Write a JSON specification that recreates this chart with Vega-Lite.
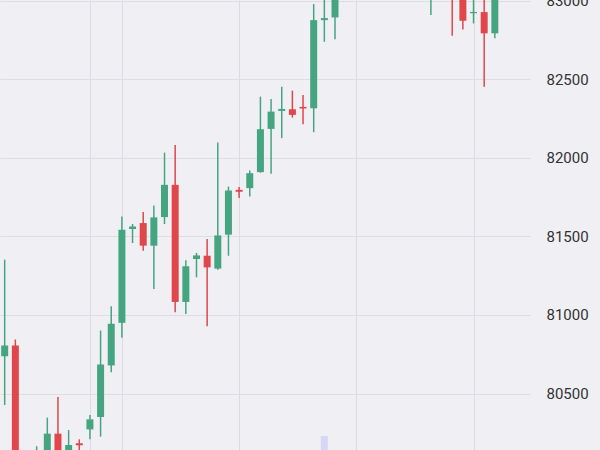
{
  "$schema": "https://vega.github.io/schema/vega-lite/v6.json",
  "width": 530,
  "height": 450,
  "autosize": {"type": "none"},
  "padding": {"left": 0, "top": 0, "right": 70, "bottom": 0},
  "background": "#f0eff4",
  "config": {"view": {"stroke": null, "fill": "#f0eff4"}},
  "datasets": {
    "candles": [
      {"i":0,"o":80738,"h":81352,"l":80427,"c":80806},
      {"i":1,"o":80806,"h":80844,"l":80050,"c":80080},
      {"i":3,"o":80060,"h":80165,"l":80030,"c":80110},
      {"i":4,"o":80080,"h":80347,"l":80050,"c":80245},
      {"i":5,"o":80245,"h":80478,"l":80060,"c":80090},
      {"i":6,"o":80100,"h":80268,"l":80080,"c":80173},
      {"i":7,"o":80184,"h":80209,"l":80130,"c":80171},
      {"i":8,"o":80272,"h":80363,"l":80209,"c":80336},
      {"i":9,"o":80351,"h":80901,"l":80226,"c":80685},
      {"i":10,"o":80679,"h":81055,"l":80636,"c":80944},
      {"i":11,"o":80950,"h":81627,"l":80855,"c":81542},
      {"i":12,"o":81547,"h":81579,"l":81458,"c":81563},
      {"i":13,"o":81585,"h":81655,"l":81409,"c":81441},
      {"i":14,"o":81441,"h":81697,"l":81166,"c":81621},
      {"i":15,"o":81623,"h":82033,"l":81579,"c":81828},
      {"i":16,"o":81828,"h":82082,"l":81017,"c":81083},
      {"i":17,"o":81083,"h":81348,"l":81007,"c":81310},
      {"i":18,"o":81356,"h":81395,"l":81240,"c":81379},
      {"i":19,"o":81377,"h":81483,"l":80928,"c":81303},
      {"i":20,"o":81295,"h":82097,"l":81288,"c":81506},
      {"i":21,"o":81511,"h":81817,"l":81377,"c":81792},
      {"i":22,"o":81796,"h":81814,"l":81744,"c":81784},
      {"i":23,"o":81807,"h":81919,"l":81754,"c":81902},
      {"i":24,"o":81909,"h":82389,"l":81905,"c":82182},
      {"i":25,"o":82184,"h":82374,"l":81898,"c":82294},
      {"i":26,"o":82298,"h":82452,"l":82125,"c":82311},
      {"i":27,"o":82309,"h":82427,"l":82256,"c":82273},
      {"i":28,"o":82324,"h":82400,"l":82214,"c":82314},
      {"i":29,"o":82315,"h":82978,"l":82163,"c":82876},
      {"i":30,"o":82876,"h":83060,"l":82738,"c":82889},
      {"i":31,"o":82893,"h":83120,"l":82755,"c":83080},
      {"i":40,"o":83030,"h":83150,"l":82908,"c":83100},
      {"i":42,"o":83100,"h":83150,"l":82776,"c":83030},
      {"i":43,"o":83080,"h":83120,"l":82817,"c":82872},
      {"i":44,"o":82920,"h":83040,"l":82855,"c":82928},
      {"i":45,"o":82927,"h":83020,"l":82452,"c":82792},
      {"i":46,"o":82792,"h":83080,"l":82760,"c":83050}
    ],
    "volume": [
      {"i":30,"v":31}
    ]
  },
  "layer": [
    {
      "data": {"name": "volume"},
      "mark": {"type": "bar", "size": 7, "color": "#d6d6f6", "clip": true},
      "encoding": {
        "x": {
          "field": "i", "type": "quantitative",
          "scale": {"domain": [-0.44, 49.3], "nice": false, "zero": false, "padding": 0},
          "axis": {"values": [8, 11, 22, 33, 44], "labels": false, "ticks": false, "domain": false, "title": null, "grid": true, "gridColor": "#dcdbe1", "gridWidth": 1}
        },
        "y": {"field": "v", "type": "quantitative", "scale": {"domain": [0, 1000]}, "axis": null}
      }
    },
    {
      "data": {"name": "candles"},
      "encoding": {
        "x": {
          "field": "i", "type": "quantitative",
          "scale": {"domain": [-0.44, 49.3], "nice": false, "zero": false, "padding": 0},
          "axis": {"values": [8, 11, 22, 33, 44], "labels": false, "ticks": false, "domain": false, "title": null, "grid": true, "gridColor": "#dcdbe1", "gridWidth": 1}
        },
        "color": {"condition": {"test": "datum.c >= datum.o", "value": "#46a581"}, "value": "#e0474b"}
      },
      "layer": [
        {
          "mark": {"type": "rule", "strokeWidth": 1.5, "clip": true},
          "encoding": {
            "y": {
              "field": "l", "type": "quantitative",
              "scale": {"domain": [80141, 83004], "nice": false, "zero": false, "padding": 0},
              "axis": {"orient": "right", "values": [80500, 81000, 81500, 82000, 82500, 83000], "title": null, "domain": false, "ticks": false, "labelFlush": false, "labelPadding": 16, "labelFontSize": 15, "labelFont": "Roboto", "labelColor": "#333333", "grid": true, "gridColor": "#dedde3", "gridWidth": 1, "format": "d"}
            },
            "y2": {"field": "h"}
          }
        },
        {
          "mark": {"type": "bar", "size": 7, "clip": true},
          "encoding": {
            "y": {"field": "o", "type": "quantitative"},
            "y2": {"field": "c"}
          }
        }
      ]
    }
  ],
  "resolve": {"scale": {"y": "independent"}}
}
